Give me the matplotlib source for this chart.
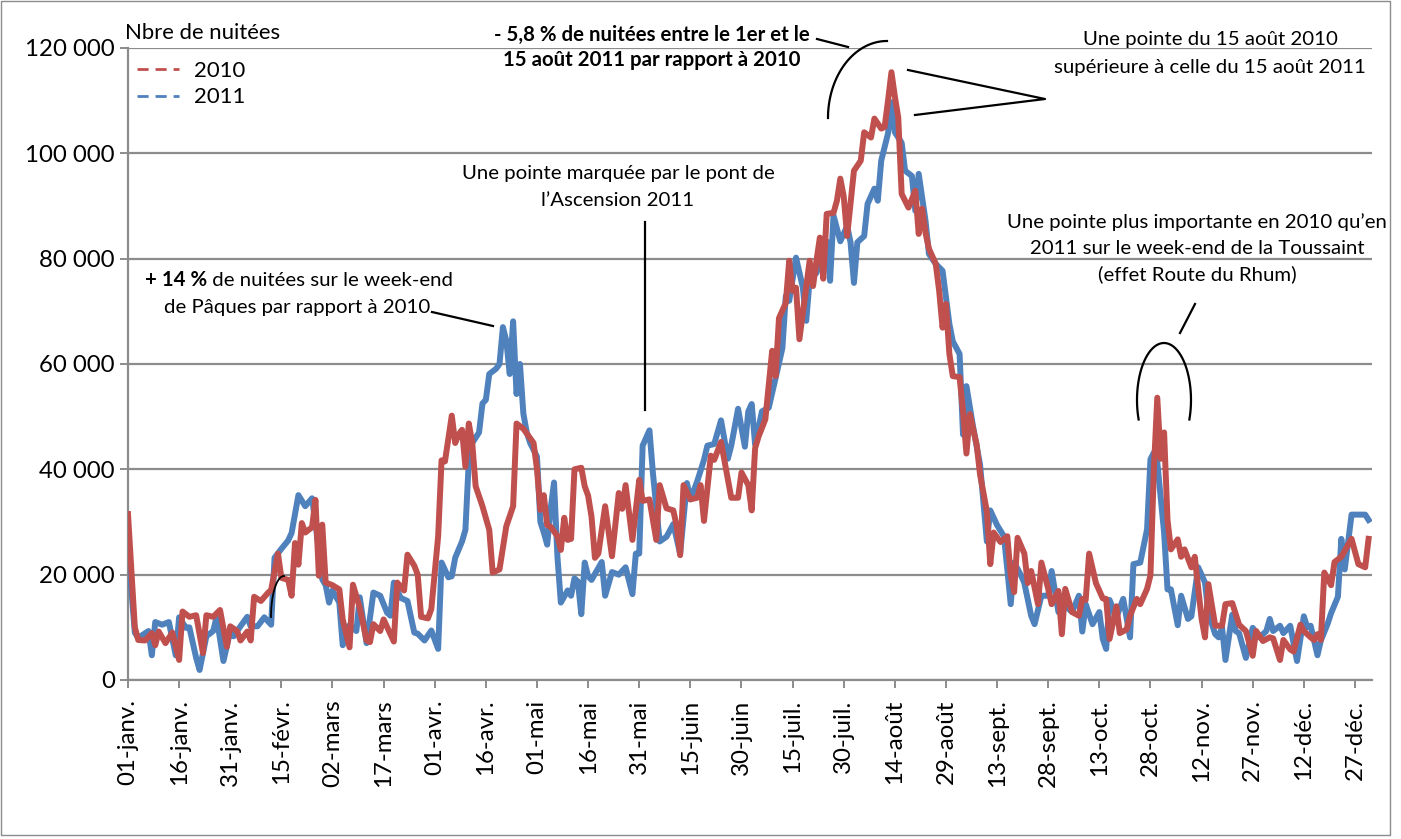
import numpy as np
import matplotlib
matplotlib.use('Agg')
import matplotlib.pyplot as plt
from matplotlib.lines import Line2D
from matplotlib.patches import Rectangle
from matplotlib.ticker import FuncFormatter

plt.rcParams['font.family'] = ['Lato', 'DejaVu Sans']

W, H = 1401, 839

# ---- data (day index from 1 January) ----
days_2011 = [0, 2, 3, 6, 7, 8, 10, 12, 14, 15, 17, 18, 20, 21, 23, 25, 26, 28, 30, 31,
             33, 35, 36, 38, 40, 42, 43, 45, 47, 48, 50, 52, 54, 55, 57, 58, 59, 60, 62, 63,
             65, 67, 68, 70, 72, 74, 76, 77, 78, 80, 82, 84, 85, 87, 89, 91, 92, 94, 95, 96,
             98, 99, 100, 101, 103, 104, 105, 106, 108, 109, 110, 111, 112, 113, 114, 115, 116, 117, 118, 120,
             121, 122, 123, 124, 125, 126, 127, 129, 130, 131, 132, 133, 134, 135, 136, 139, 140, 142, 144, 146,
             148, 149, 150, 151, 153, 154, 156, 158, 160, 162, 164, 165, 167, 169, 170, 172, 174, 176, 177, 179,
             181, 182, 183, 184, 186, 188, 190, 192, 193, 194, 196, 198, 199, 200, 202, 204, 205, 206, 207, 209,
             211, 212, 213, 214, 216, 217, 219, 220, 221, 223, 224, 225, 227, 228, 230, 231, 232, 234, 235, 237,
             239, 241, 242, 244, 245, 246, 248, 250, 252, 253, 255, 257, 258, 259, 260, 262, 263, 265, 266, 268,
             270, 271, 273, 274, 276, 277, 279, 280, 281, 283, 285, 286, 287, 288, 290, 292, 294, 295, 297, 299,
             300, 301, 302, 304, 305, 306, 308, 309, 311, 312, 314, 316, 317, 319, 320, 321, 322, 324, 325, 326,
             328, 330, 332, 334, 335, 336, 338, 339, 341, 343, 345, 346, 347, 349, 350, 352, 353, 355, 356, 357,
             359, 361, 363, 364]
nuitees_2011 = [25000, 9000, 8000, 9300, 4700, 11000, 10500, 11000, 4700, 11900, 9900, 10000, 4200, 1900, 8300, 9300, 12000, 3600, 9300, 8300,
                10200, 12000, 10200, 10200, 11900, 10500, 23200, 24900, 26500, 27900, 35100, 33000, 34500, 29800, 19100, 18000, 14700, 17000, 14700, 6600,
                10400, 9300, 15700, 7000, 16600, 16000, 12800, 12200, 18500, 15600, 15000, 9000, 8800, 7500, 9400, 5900, 22300, 19500, 19700, 23200,
                26300, 28500, 41700, 45000, 47000, 52500, 53200, 58100, 59100, 60000, 67000, 64400, 58100, 68100, 54300, 60000, 50600, 47000, 45000, 42400,
                30000, 28000, 25700, 32400, 37500, 23400, 14700, 17000, 16000, 19300, 18700, 12500, 22300, 19700, 19000, 22400, 16000, 20500, 20000, 21400,
                16300, 24000, 24000, 44500, 47400, 39400, 26300, 27200, 29600, 24000, 37400, 34300, 37700, 41800, 44500, 44800, 49300, 42000, 44500, 51500,
                44300, 51000, 52400, 44700, 51000, 51700, 57300, 63000, 72900, 72000, 80200, 74500, 68200, 76000, 77300, 82100, 83300, 75800, 88200, 83300,
                86200, 83100, 75400, 83100, 84300, 90400, 93300, 91000, 98600, 103800, 109700, 104000, 102000, 96700, 95700, 89100, 96100, 87200, 80900, 79000,
                77700, 67600, 64300, 61900, 46600, 55800, 47900, 40900, 26300, 32200, 29400, 27300, 21000, 14400, 22300, 19900, 18400, 12200, 10600, 16000,
                16000, 20700, 12900, 16000, 13500, 12900, 16000, 9200, 14400, 10600, 12900, 7800, 5900, 15200, 11900, 15400, 8100, 22000, 22300, 28600,
                41900, 43200, 41300, 28000, 17200, 17200, 10400, 16000, 11600, 12100, 21400, 18500, 12700, 8700, 8100, 10000, 3800, 12400, 9300, 8900,
                4200, 9900, 8100, 9300, 11600, 9300, 10300, 8900, 10300, 3600, 12100, 10000, 10300, 4700, 7500, 10700, 12700, 15800, 26800, 21000,
                31400, 31400, 31400, 30400]

days_2010 = [0, 2, 3, 5, 7, 8, 9, 11, 13, 15, 16, 18, 20, 22, 23, 25, 27, 29, 30, 32,
             33, 35, 36, 37, 39, 41, 42, 44, 45, 47, 48, 49, 50, 51, 52, 54, 55, 56, 57, 58,
             60, 62, 63, 65, 66, 68, 70, 71, 72, 74, 75, 78, 79, 81, 82, 84, 85, 86, 88, 89,
             91, 92, 93, 95, 96, 97, 98, 99, 100, 101, 102, 104, 106, 107, 109, 111, 113, 114, 116, 119,
             120, 121, 122, 123, 124, 126, 127, 128, 129, 130, 131, 133, 134, 135, 136, 137, 138, 140, 142, 144,
             145, 146, 148, 150, 151, 153, 155, 156, 158, 160, 161, 162, 163, 165, 167, 168, 169, 171, 172, 174,
             177, 179, 180, 182, 183, 184, 185, 187, 189, 190, 191, 193, 194, 195, 196, 197, 200, 201, 202, 203,
             204, 205, 207, 208, 209, 210, 211, 213, 215, 216, 218, 219, 221, 222, 223, 224, 225, 226, 227, 229,
             231, 232, 233, 234, 235, 237, 238, 239, 240, 241, 242, 244, 245, 246, 247, 249, 250, 252, 253, 254,
             256, 258, 259, 260, 261, 263, 264, 265, 267, 268, 270, 271, 273, 274, 275, 277, 279, 280, 281, 282,
             284, 286, 287, 288, 290, 291, 293, 294, 296, 297, 299, 300, 301, 302, 303, 304, 305, 306, 308, 309,
             310, 312, 313, 315, 316, 317, 319, 321, 322, 324, 326, 328, 330, 331, 333, 335, 336, 338, 339, 341,
             342, 344, 345, 347, 348, 349, 350, 351, 353, 354, 356, 359, 361, 363, 364]
nuitees_2010 = [31500, 10000, 7600, 7500, 8900, 6600, 9200, 7000, 9000, 3800, 13000, 12000, 12300, 5100, 12300, 12000, 13300, 6300, 10200, 9300,
                7500, 9200, 7500, 15800, 15000, 16500, 17100, 24000, 19400, 19000, 16000, 26000, 21900, 29800, 28000, 29000, 34200, 19800, 29500, 18500,
                18000, 17200, 11500, 6200, 18100, 13700, 7500, 7200, 10600, 9300, 11500, 7300, 18500, 17000, 23800, 21700, 20000, 12000, 11700, 13500,
                27300, 41700, 41500, 50200, 45000, 46600, 47500, 40500, 48700, 45000, 36800, 33000, 28500, 20400, 21000, 29200, 33000, 48700, 47700, 45000,
                40000, 32300, 35100, 29400, 29100, 27300, 24700, 30800, 26600, 26800, 40000, 40300, 36800, 35000, 31000, 23200, 24000, 33000, 23500, 35500,
                32500, 37000, 26600, 38000, 34000, 34300, 26600, 37000, 32600, 32200, 29200, 23700, 37000, 34300, 34600, 37000, 30200, 42600, 41800, 45200,
                34600, 34600, 39400, 37000, 32200, 44000, 46200, 49500, 62500, 57700, 68700, 71600, 79600, 73900, 74500, 64700, 79600, 74800, 79600, 84000,
                76200, 88500, 88700, 91000, 95200, 91800, 84300, 96700, 98600, 104000, 103000, 106600, 104700, 105000, 110000, 115400, 110800, 106800, 92300, 89700,
                92900, 84700, 89500, 84900, 81900, 79000, 73900, 66900, 71400, 61900, 57700, 57500, 51000, 43000, 50500, 44700, 39000, 32000, 22000, 28000,
                26200, 27300, 19900, 16700, 27000, 24000, 18400, 20700, 14400, 22300, 17300, 14400, 16900, 8700, 17300, 12900, 12200, 15400, 15200, 24000,
                18400, 15500, 15400, 7800, 14000, 8900, 9600, 12200, 15400, 14400, 17300, 19900, 40000, 53600, 42000, 47000, 30400, 24800, 26700, 23400,
                24800, 21400, 23400, 11600, 8100, 18200, 10300, 10300, 14400, 14600, 10500, 9300, 4600, 9300, 7400, 8100, 7900, 3800, 7600, 5800,
                5400, 10500, 9300, 8100, 7600, 8700, 7600, 20400, 18000, 22400, 23400, 26800, 22000, 21400, 26800]

tick_days = list(range(0, 361, 15))
tick_labels = ['01-janv.', '16-janv.', '31-janv.', '15-févr.', '02-mars', '17-mars', '01-avr.',
               '16-avr.', '01-mai', '16-mai', '31-mai', '15-juin', '30-juin', '15-juil.', '30-juil.',
               '14-août', '29-août', '13-sept.', '28-sept.', '13-oct.', '28-oct.', '12-nov.',
               '27-nov.', '12-déc.', '27-déc.']

red = '#C0504D'
blue = '#4F81BD'
grid = '#8C8C8C'


def fpx(x, y):
    # pixel position -> figure fraction
    return x / W, 1 - y / H


def line_px(fig, xs, ys, lw=1.6):
    xs = np.asarray(xs, float) / W
    ys = 1 - np.asarray(ys, float) / H
    fig.add_artist(Line2D(xs, ys, color='black', lw=lw, transform=fig.transFigure))


def arc_px(fig, cx, cy, rx, ry, a0, a1, lw=1.6):
    t = np.radians(np.linspace(a0, a1, 60))
    line_px(fig, cx + rx * np.cos(t), cy - ry * np.sin(t), lw=lw)


fig = plt.figure(figsize=(W / 100, H / 100), dpi=100)
fig.patches.append(Rectangle((1 / W, 1 - 835 / H), 1389 / W, 834 / H, transform=fig.transFigure,
                             fill=False, edgecolor='#8C8C8C', lw=1))

ax = fig.add_axes([128 / W, 1 - 680 / H, (1372 - 128) / W, (680 - 48) / H])
ax.plot(days_2011, nuitees_2011, color=blue, lw=4.3, solid_joinstyle='round', zorder=3)
ax.plot(days_2010, nuitees_2010, color=red, lw=4.3, solid_joinstyle='round', zorder=4)

ax.set_xlim(0, 365)
ax.set_ylim(0, 120000)
ax.set_yticks(np.arange(0, 120001, 20000))
ax.yaxis.set_major_formatter(FuncFormatter(lambda v, p: f'{int(v):,}'.replace(',', ' ')))
ax.set_xticks(tick_days)
ax.set_xticklabels(tick_labels, rotation=90)
ax.grid(axis='y', color=grid, lw=1.6, zorder=0)
ax.set_axisbelow(True)
for s in ['top', 'right']:
    ax.spines[s].set_visible(False)
for s in ['left', 'bottom']:
    ax.spines[s].set_color(grid)
    ax.spines[s].set_linewidth(1.6)
ax.tick_params(axis='both', colors=grid, labelcolor='black', labelsize=17.3, length=6, width=1.4)
ax.tick_params(axis='x', pad=8)

# y title and legend
fig.text(*fpx(125, 33), 'Nbre de nuitées', fontsize=15.9, ha='left', va='center')
handles = [Line2D([], [], color=red, lw=2, ls=(0, (4, 2.5))),
           Line2D([], [], color=blue, lw=2, ls=(0, (4, 2.5)))]
fig.legend(handles, ['2010', '2011'], loc='upper left', bbox_to_anchor=fpx(128, 52),
           frameon=False, fontsize=15.9, handlelength=1.9, handletextpad=0.7, labelspacing=0.3,
           borderaxespad=0)

# annotations
fs = 14.7
fig.text(*fpx(207, 280), '+ 14 %', fontsize=fs, fontweight='bold', ha='right', va='center')
fig.text(*fpx(207, 280), ' de nuitées sur le week-end', fontsize=fs, ha='left', va='center')
fig.text(*fpx(297, 307), 'de Pâques par rapport à 2010', fontsize=fs, ha='center', va='center')
line_px(fig, [432, 493], [312, 326])

fig.text(*fpx(618, 173), 'Une pointe marquée par le pont de', fontsize=fs, ha='center', va='center')
fig.text(*fpx(618, 200), 'l\u2019Ascension 2011', fontsize=fs, ha='center', va='center')
line_px(fig, [645, 645], [222, 410])

fig.text(*fpx(652, 35), '- 5,8 % de nuitées entre le 1er et le', fontsize=fs, fontweight='bold',
         ha='center', va='center')
fig.text(*fpx(652, 60), '15 août 2011 par rapport à 2010', fontsize=fs, fontweight='bold',
         ha='center', va='center')
line_px(fig, [817, 848], [39, 47])
arc_px(fig, 887, 118, 59, 77, 180, 90)

fig.text(*fpx(1210, 40), 'Une pointe du 15 août 2010', fontsize=fs, ha='center', va='center')
fig.text(*fpx(1210, 68), 'supérieure à celle du 15 août 2011', fontsize=fs, ha='center', va='center')
line_px(fig, [908, 1045, 915], [70, 99, 115])

fig.text(*fpx(1197, 222), 'Une pointe plus importante en 2010 qu\u2019en', fontsize=fs, ha='center', va='center')
fig.text(*fpx(1197, 248), '2011 sur le week-end de la Toussaint', fontsize=fs, ha='center', va='center')
fig.text(*fpx(1197, 274), '(effet Route du Rhum)', fontsize=fs, ha='center', va='center')
line_px(fig, [1195, 1180], [304, 333])
arc_px(fig, 1164, 400, 27, 57, 200, -20)

arc_px(fig, 284, 617, 13, 41, 180, 90, lw=1.3)

fig.savefig('out.png', dpi=100)
